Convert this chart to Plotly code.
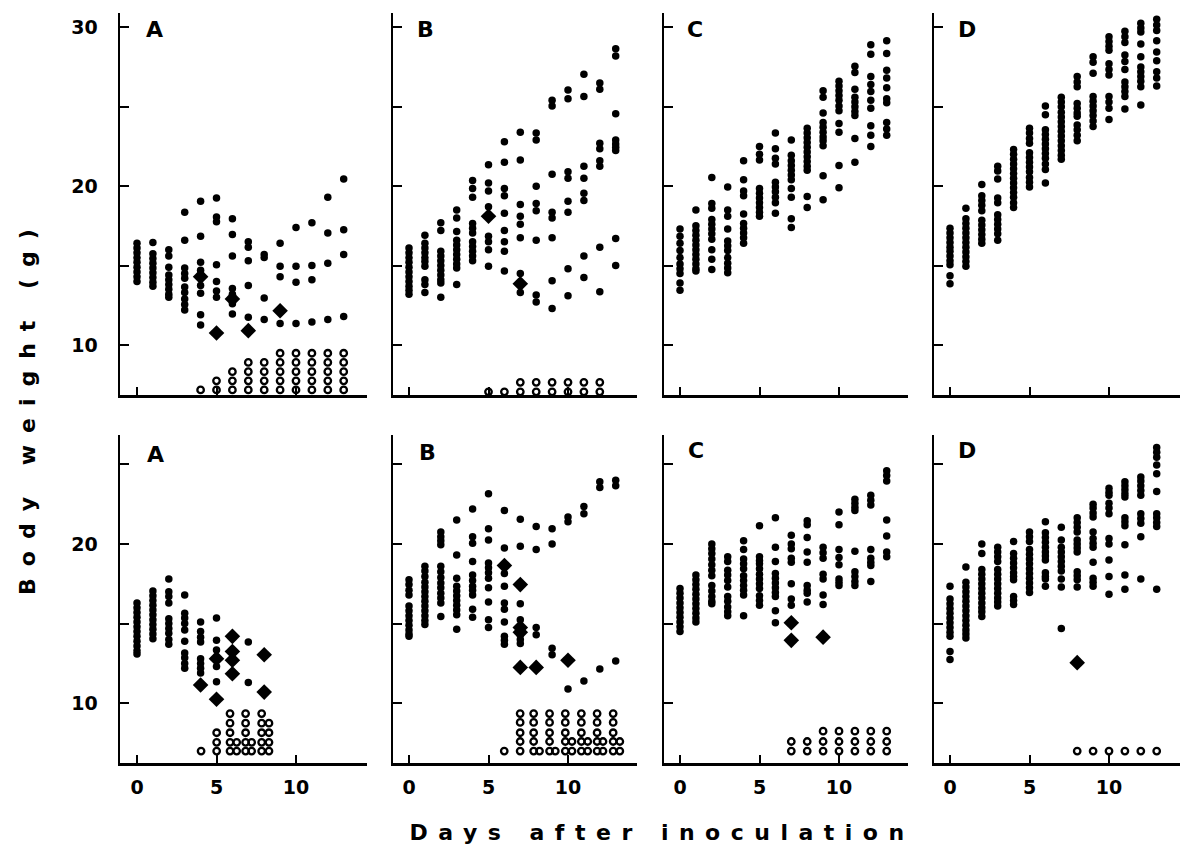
import plotly.graph_objects as go

W, H = 1182, 856
days = list(range(14))

# ---------------- TOP ROW ----------------
top_A_alive = [
    [16.4, 16.1, 15.8, 15.5, 15.2, 14.9, 14.6, 14.3, 14.0],
    [16.45, 15.75, 15.45, 15.15, 14.85, 14.55, 14.25, 13.95, 13.7],
    [16.0, 15.6, 14.9, 14.4, 14.1, 13.8, 13.5, 13.2, 13.0],
    [18.35, 16.6, 14.85, 14.5, 14.2, 13.65, 13.3, 12.9, 12.55, 12.2],
    [19.05, 16.85, 15.2, 14.7, 13.75, 13.25, 11.9, 11.25],
    [19.25, 18.05, 17.75, 15.05, 14.0, 13.4, 13.0],
    [17.95, 16.95, 15.6, 13.55, 13.2, 12.6, 11.95],
    [16.5, 16.15, 15.3, 13.75, 11.75],
    [15.7, 15.5, 12.95, 11.6],
    [16.4, 14.95, 14.3, 11.35],
    [17.4, 14.95, 13.95, 11.35],
    [17.7, 15.0, 14.1, 11.45],
    [19.3, 17.05, 15.15, 11.6],
    [20.45, 17.25, 15.7, 11.8],
]
top_A_diamond_day = [4, 5, 6, 7, 9]
top_A_diamond_wt = [14.3, 10.75, 12.9, 10.9, 12.15]
top_A_dead_x = [4, 5, 6, 7, 8, 9, 10, 11, 12, 13]
top_A_dead_count = [1, 2, 3, 4, 4, 5, 5, 5, 5, 5]
top_A_dead_levels = [7.17, 7.74, 8.32, 8.9, 9.48]

top_B_alive = [
    [16.1, 15.8, 15.5, 15.2, 14.9, 14.6, 14.3, 14.0, 13.7, 13.45, 13.2],
    [16.9, 16.4, 16.1, 15.8, 15.5, 15.25, 14.95, 14.1, 13.8, 13.3],
    [17.7, 17.2, 15.9, 15.6, 15.3, 15.0, 14.7, 14.4, 14.1, 13.9, 13.0],
    [18.5, 18.0, 17.15, 16.6, 16.3, 16.0, 15.7, 15.4, 15.1, 14.85, 13.8],
    [20.35, 19.85, 19.3, 17.65, 17.35, 17.05, 16.5, 16.2, 15.9, 15.6, 15.3],
    [21.35, 20.2, 19.7, 18.7, 16.85, 16.5, 16.0, 14.95],
    [22.8, 21.5, 19.85, 19.4, 18.3, 17.2, 16.5, 15.9, 14.65],
    [23.4, 21.65, 18.85, 18.1, 17.6, 16.75, 14.5, 13.3],
    [23.35, 22.9, 20.0, 18.9, 18.45, 16.6, 13.15, 12.7],
    [25.4, 25.05, 20.75, 18.35, 18.0, 16.75, 14.05, 12.3],
    [26.05, 25.5, 20.9, 20.5, 19.05, 18.35, 14.8, 13.1],
    [27.05, 25.65, 21.25, 20.5, 19.55, 19.1, 15.6, 14.25],
    [26.5, 26.1, 22.7, 22.35, 21.6, 21.25, 16.15, 13.35],
    [28.65, 28.2, 24.55, 22.9, 22.65, 22.45, 22.25, 16.7, 15.0],
]
top_B_diamond_day = [5, 7]
top_B_diamond_wt = [18.1, 13.85]
top_B_dead_x = [5, 6, 7, 8, 9, 10, 11, 12]
top_B_dead_count = [1, 1, 2, 2, 2, 2, 2, 2]
top_B_dead_levels = [7.05, 7.65]

top_C_alive = [
    [17.3, 16.85, 16.4, 15.95, 15.5, 15.1, 14.8, 14.5, 13.9, 13.45],
    [18.5, 17.5, 17.2, 16.9, 16.6, 16.3, 16.0, 15.7, 15.4, 15.1, 14.8, 14.65],
    [20.55, 18.9, 18.6, 17.9, 17.6, 17.3, 17.0, 16.65, 16.0, 15.4, 14.75],
    [19.95, 18.5, 18.1, 17.3, 16.55, 16.25, 15.95, 15.5, 15.15, 14.85, 14.55],
    [21.6, 20.4, 19.7, 19.4, 18.25, 17.65, 17.35, 17.05, 16.75, 16.4],
    [22.5, 22.0, 21.65, 19.85, 19.55, 19.25, 18.95, 18.65, 18.35, 18.1],
    [23.35, 22.35, 21.75, 21.4, 20.25, 19.95, 19.65, 19.3, 18.95, 18.3],
    [22.9, 21.95, 21.6, 21.3, 21.0, 20.7, 20.4, 19.85, 19.3, 17.95, 17.4],
    [23.65, 23.35, 23.05, 22.75, 22.45, 22.15, 21.85, 21.55, 21.25, 21.0, 19.35, 18.65],
    [26.0, 25.6, 24.6, 24.0, 23.7, 23.4, 23.1, 22.85, 22.55, 20.65, 19.15],
    [26.6, 26.3, 26.0, 25.7, 25.4, 25.05, 24.75, 23.95, 23.4, 21.3, 19.9],
    [27.55, 27.15, 26.1, 25.6, 25.3, 25.0, 24.7, 24.45, 23.0, 21.5],
    [28.9, 28.3, 26.9, 26.4, 25.95, 25.4, 24.9, 23.8, 23.2, 22.5],
    [29.15, 28.35, 27.3, 26.8, 26.2, 25.5, 25.25, 24.0, 23.6, 23.2],
]

top_D_alive = [
    [17.35, 17.05, 16.75, 16.45, 16.15, 15.9, 15.6, 15.3, 15.05, 14.35, 13.85],
    [18.6, 17.95, 17.65, 17.35, 17.05, 16.75, 16.45, 16.15, 15.85, 15.55, 15.25, 14.95],
    [20.1, 19.4, 19.1, 18.8, 18.45, 17.85, 17.55, 17.25, 16.95, 16.65, 16.4],
    [21.25, 20.95, 20.45, 19.25, 18.95, 18.2, 17.9, 17.6, 17.3, 17.0, 16.6],
    [22.3, 22.0, 21.7, 21.4, 21.1, 20.8, 20.5, 20.2, 19.9, 19.6, 19.3, 18.95, 18.65],
    [23.65, 23.35, 23.0, 22.7, 22.1, 21.8, 21.5, 21.2, 20.9, 20.55, 20.25, 19.95],
    [25.05, 24.5, 23.55, 23.25, 22.95, 22.65, 22.35, 22.05, 21.75, 21.4, 21.05, 20.2],
    [25.6, 25.3, 25.0, 24.65, 24.35, 24.05, 23.75, 23.45, 23.15, 22.85, 22.55, 22.25, 21.95, 21.7],
    [26.9, 26.55, 26.25, 25.2, 24.9, 24.6, 24.4, 23.85, 23.55, 23.2, 22.85],
    [28.15, 27.8, 27.1, 25.65, 25.35, 25.05, 24.75, 24.45, 24.1, 23.75],
    [29.4, 29.1, 28.8, 28.55, 27.7, 27.35, 27.0, 25.65, 25.3, 24.9, 24.2],
    [29.75, 29.4, 29.05, 28.25, 27.85, 27.35, 26.55, 26.25, 25.95, 25.65, 24.85],
    [30.25, 29.95, 29.7, 28.95, 28.15, 27.5, 27.2, 26.9, 26.6, 26.25, 25.1],
    [30.5, 30.15, 29.8, 29.15, 28.45, 27.9, 27.2, 26.8, 26.3],
]

# ---------------- BOTTOM ROW ----------------
bot_A_alive = [
    [16.3, 16.0, 15.7, 15.4, 15.1, 14.8, 14.5, 14.2, 13.9, 13.6, 13.3, 13.1],
    [17.05, 16.75, 16.45, 16.15, 15.85, 15.55, 15.25, 14.95, 14.65, 14.35, 14.05],
    [17.8, 17.0, 16.7, 16.3, 15.3, 15.0, 14.7, 14.4, 14.0, 13.7],
    [16.8, 15.65, 15.35, 15.0, 14.6, 13.9, 13.15, 12.85, 12.5, 12.2],
    [15.1, 14.5, 14.15, 13.85, 12.8, 12.5, 12.2, 11.9],
    [15.35, 13.95, 13.35, 12.3, 11.35],
    [],
    [13.85, 11.3],
    [], [], [], [], [], [],
]
bot_A_diamond_day = [4, 5, 5, 6, 6, 6, 6, 8, 8]
bot_A_diamond_wt = [11.15, 12.8, 10.25, 14.2, 13.25, 12.7, 11.85, 13.05, 10.7]
bot_A_dead_x = [4.03, 5.01, 5.85, 6.27, 6.83, 7.21, 7.84, 8.3]
bot_A_dead_count = [1, 3, 5, 2, 5, 2, 5, 4]
bot_A_dead_levels = [7.0, 7.55, 8.15, 8.75, 9.35]

bot_B_alive = [
    [17.75, 17.45, 17.1, 16.8, 16.1, 15.8, 15.5, 15.2, 14.9, 14.6, 14.35, 14.2],
    [18.6, 18.3, 17.95, 17.6, 17.3, 17.0, 16.7, 16.4, 16.1, 15.8, 15.5, 15.2, 14.95],
    [20.75, 20.45, 20.2, 19.95, 18.6, 18.25, 17.9, 17.55, 17.25, 16.9, 16.6, 16.3, 15.45],
    [21.5, 19.3, 17.85, 17.35, 17.05, 16.75, 16.45, 16.15, 15.85, 15.55, 14.65],
    [22.2, 20.45, 20.05, 18.9, 18.05, 17.7, 17.35, 17.1, 16.8, 15.9, 15.4],
    [23.15, 20.95, 20.25, 18.8, 18.5, 18.2, 17.85, 17.25, 16.35, 15.25, 14.75],
    [22.1, 19.75, 18.15, 17.35, 16.3, 15.9, 15.1, 14.2, 13.95, 13.7],
    [21.55, 19.85, 16.25, 15.25, 14.3, 14.0, 13.75],
    [21.1, 19.65, 14.75, 14.3],
    [20.95, 20.0, 13.45, 13.05],
    [21.7, 21.4, 10.9],
    [22.35, 21.9, 11.4],
    [23.9, 23.55, 12.15],
    [24.0, 23.65, 12.65],
]
bot_B_diamond_day = [6, 7, 7, 7, 7, 8, 10]
bot_B_diamond_wt = [18.65, 17.45, 14.75, 14.45, 12.25, 12.25, 12.7]
bot_B_dead_x = [5.99, 6.99, 7.84, 8.21, 8.84, 9.2, 9.83, 10.25, 10.84, 11.24, 11.83, 12.2, 12.84, 13.26]
bot_B_dead_count = [1, 5, 5, 1, 5, 1, 5, 2, 5, 2, 5, 2, 5, 2]
bot_B_dead_levels = [7.0, 7.6, 8.15, 8.8, 9.35]

bot_C_alive = [
    [17.2, 16.9, 16.6, 16.3, 16.0, 15.7, 15.4, 15.1, 14.8, 14.5],
    [18.05, 17.75, 17.45, 17.15, 16.85, 16.55, 16.25, 15.95, 15.65, 15.35, 15.1],
    [20.0, 19.7, 19.4, 19.05, 18.7, 18.35, 18.0, 17.4, 17.05, 16.7, 16.4, 16.25],
    [19.2, 18.9, 18.35, 18.05, 17.7, 17.3, 16.7, 16.4, 16.05, 15.75, 15.5],
    [20.2, 19.65, 19.05, 18.75, 18.45, 18.0, 17.7, 17.4, 17.1, 16.8, 15.5],
    [21.15, 19.2, 18.95, 18.75, 18.45, 18.1, 17.8, 17.5, 17.2, 16.75, 16.45, 16.15],
    [21.65, 19.8, 18.9, 18.15, 17.85, 17.55, 17.25, 16.95, 16.7, 15.8, 15.05],
    [20.55, 20.0, 19.7, 19.1, 18.85, 17.5, 16.55, 16.15],
    [21.45, 21.2, 20.4, 19.5, 18.85, 17.4, 17.1, 16.9, 16.35],
    [19.8, 19.45, 19.1, 18.1, 17.8, 16.8, 16.2],
    [22.0, 21.2, 19.65, 19.15, 18.7, 17.8, 17.6, 17.4],
    [22.8, 22.55, 22.3, 22.1, 19.55, 18.25, 17.95, 17.65, 17.4],
    [23.05, 22.75, 22.45, 19.65, 19.1, 18.85, 18.65, 17.65],
    [24.6, 24.3, 23.95, 21.5, 20.5, 19.5, 19.2],
]
bot_C_diamond_day = [7, 7, 9]
bot_C_diamond_wt = [15.05, 13.95, 14.15]
bot_C_dead_x = [7, 8, 9, 10, 11, 12, 13]
bot_C_dead_count = [2, 2, 3, 3, 3, 3, 3]
bot_C_dead_levels = [7.0, 7.6, 8.25]

bot_D_alive = [
    [17.35, 16.55, 16.25, 15.95, 15.65, 15.35, 15.05, 14.75, 14.45, 14.2, 13.25, 12.75],
    [18.55, 17.6, 17.3, 17.0, 16.7, 16.4, 16.1, 15.8, 15.5, 15.2, 14.9, 14.6, 14.35, 14.1],
    [20.0, 19.4, 18.4, 18.1, 17.8, 17.5, 17.2, 16.9, 16.6, 16.3, 16.0, 15.75, 15.45],
    [19.8, 19.5, 19.2, 18.9, 18.4, 18.1, 17.8, 17.5, 17.2, 16.9, 16.6, 16.35, 16.1],
    [20.15, 19.4, 19.1, 18.8, 18.5, 18.2, 17.95, 17.75, 16.7, 16.45, 16.2],
    [20.75, 20.45, 20.15, 19.65, 19.35, 19.05, 18.75, 18.45, 18.15, 17.85, 17.55, 17.25, 16.95],
    [21.4, 20.7, 20.4, 20.1, 19.8, 19.5, 19.25, 19.0, 18.2, 17.95, 17.8, 17.35],
    [21.05, 20.25, 19.8, 19.5, 19.2, 18.9, 18.6, 18.3, 17.8, 17.3, 14.7],
    [21.65, 21.35, 21.05, 20.75, 20.25, 20.0, 19.75, 19.5, 18.25, 18.0, 17.75, 17.3],
    [22.5, 22.25, 21.95, 21.7, 20.75, 20.35, 20.05, 19.8, 18.85, 17.85, 17.6, 17.35],
    [23.5, 23.25, 23.05, 22.55, 22.25, 21.9, 20.35, 20.0, 19.0, 17.95, 16.85],
    [23.9, 23.65, 23.4, 23.15, 22.95, 21.65, 21.4, 21.15, 19.95, 18.05, 17.15],
    [24.2, 23.95, 23.65, 23.35, 23.05, 21.9, 21.6, 21.3, 20.45, 17.8],
    [26.05, 25.75, 25.45, 24.95, 24.4, 23.3, 21.9, 21.65, 21.35, 21.1, 17.15],
]
bot_D_diamond_day = [8]
bot_D_diamond_wt = [12.55]
bot_D_dead_x = [8, 9, 10, 11, 12, 13]
bot_D_dead_count = [1, 1, 1, 1, 1, 1]
bot_D_dead_levels = [7.0]

panel_letters = ["A", "B", "C", "D", "A", "B", "C", "D"]
x_tick_vals = [0, 5, 10]
y_tick_vals_top = [10, 15, 20, 25, 30]
y_tick_vals_bot = [10, 15, 20, 25]

panels = [
    (top_A_alive, top_A_diamond_day, top_A_diamond_wt, top_A_dead_x, top_A_dead_count, top_A_dead_levels),
    (top_B_alive, top_B_diamond_day, top_B_diamond_wt, top_B_dead_x, top_B_dead_count, top_B_dead_levels),
    (top_C_alive, [], [], [], [], []),
    (top_D_alive, [], [], [], [], []),
    (bot_A_alive, bot_A_diamond_day, bot_A_diamond_wt, bot_A_dead_x, bot_A_dead_count, bot_A_dead_levels),
    (bot_B_alive, bot_B_diamond_day, bot_B_diamond_wt, bot_B_dead_x, bot_B_dead_count, bot_B_dead_levels),
    (bot_C_alive, bot_C_diamond_day, bot_C_diamond_wt, bot_C_dead_x, bot_C_dead_count, bot_C_dead_levels),
    (bot_D_alive, bot_D_diamond_day, bot_D_diamond_wt, bot_D_dead_x, bot_D_dead_count, bot_D_dead_levels),
]

# layout geometry in pixels
col_px = [(120, 367, 137), (393, 637, 409), (664, 908, 680), (934, 1180, 950)]
row_px = [(13, 395), (435, 763)]
row_yrange = [(6.85, 30.9), (6.25, 26.84)]
PX_PER_DAY = 15.9
letter_pos = [(154, 30), (425, 30), (695, 30), (967, 30),
              (155, 454), (427, 452), (696, 450), (967, 450)]

fig = go.Figure()
tickfont = dict(family="DejaVu Sans", size=19, color="black", weight="bold")

for i, (alive, dd, dw, dx, dc, dl) in enumerate(panels):
    k = i + 1
    row, col = divmod(i, 4)
    xs = [d for d, ws in zip(days, alive) for _ in ws]
    ys = [w for ws in alive for w in ws]
    fig.add_trace(go.Scatter(x=xs, y=ys, mode="markers", xaxis=f"x{k}", yaxis=f"y{k}",
                             marker=dict(symbol="circle", size=7.5, color="black"),
                             showlegend=False, hoverinfo="skip"))
    if dd:
        fig.add_trace(go.Scatter(x=dd, y=dw, mode="markers", xaxis=f"x{k}", yaxis=f"y{k}",
                                 marker=dict(symbol="diamond", size=12, color="black"),
                                 showlegend=False, hoverinfo="skip"))
    if dx:
        ox = [x for x, c in zip(dx, dc) for j in range(c)]
        oy = [dl[j] for x, c in zip(dx, dc) for j in range(c)]
        fig.add_trace(go.Scatter(x=ox, y=oy, mode="markers", xaxis=f"x{k}", yaxis=f"y{k}",
                                 marker=dict(symbol="circle-open", size=6.5, color="black",
                                             line=dict(width=2.3, color="black")),
                                 showlegend=False, hoverinfo="skip"))

    x0, x1, xz = col_px[col]
    yt, yb = row_px[row]
    xr = [(x0 - xz) / PX_PER_DAY, (x1 - xz) / PX_PER_DAY]
    yvals = y_tick_vals_top if row == 0 else y_tick_vals_bot
    ytext = [str(v) if v % 10 == 0 else "" for v in yvals]
    fig.layout[f"xaxis{k}"] = dict(
        domain=[x0 / W, x1 / W], range=xr, anchor=f"y{k}",
        showline=True, linecolor="black", linewidth=2.5,
        ticks="inside", ticklen=8, tickwidth=2, tickcolor="black",
        tickvals=x_tick_vals, showticklabels=(row == 1),
        tickfont=tickfont, ticklabelstandoff=6,
        showgrid=False, zeroline=False, fixedrange=True)
    fig.layout[f"yaxis{k}"] = dict(
        domain=[1 - yb / H, 1 - yt / H], range=list(row_yrange[row]), anchor=f"x{k}",
        showline=True, linecolor="black", linewidth=2.5,
        ticks="inside", ticklen=9, tickwidth=2, tickcolor="black",
        tickvals=yvals, ticktext=ytext, showticklabels=(col == 0),
        tickfont=tickfont, ticklabelstandoff=16,
        showgrid=False, zeroline=False, fixedrange=True)

annotations = []
for (lx, ly), letter in zip(letter_pos, panel_letters):
    annotations.append(dict(text=letter, x=lx / W, y=1 - ly / H, xref="paper", yref="paper",
                            showarrow=False, xanchor="center", yanchor="middle",
                            font=dict(family="DejaVu Sans", size=22, color="black", weight="bold")))
annotations.append(dict(text="Days after inoculation", x=662 / W, y=1 - 832 / H,
                        xref="paper", yref="paper", showarrow=False,
                        xanchor="center", yanchor="middle",
                        font=dict(family="DejaVu Sans", size=22, color="black", weight="bold")))
annotations.append(dict(text="Body weight (g)", x=27 / W, y=1 - 406 / H, textangle=-90,
                        xref="paper", yref="paper", showarrow=False,
                        xanchor="center", yanchor="middle",
                        font=dict(family="DejaVu Sans", size=22, color="black", weight="bold")))

fig.update_layout(width=W, height=H, margin=dict(l=0, r=0, t=0, b=0),
                  paper_bgcolor="white", plot_bgcolor="white",
                  annotations=annotations, showlegend=False)

post = """
document.body.style.margin = '0';
document.body.style.padding = '0';
var gd = document.getElementById('{plot_id}');
function spaceTitles(){
  gd.querySelectorAll('.annotation-text').forEach(function(t){
    var s = t.textContent;
    if (s === 'Days after inoculation') { t.style.letterSpacing = '10.5px'; }
    if (s === 'Body weight (g)') { t.style.letterSpacing = '12px'; }
  });
}
spaceTitles();
gd.on && gd.on('plotly_afterplot', spaceTitles);
"""
fig.write_html("out.html", post_script=post, config={"staticPlot": True})
